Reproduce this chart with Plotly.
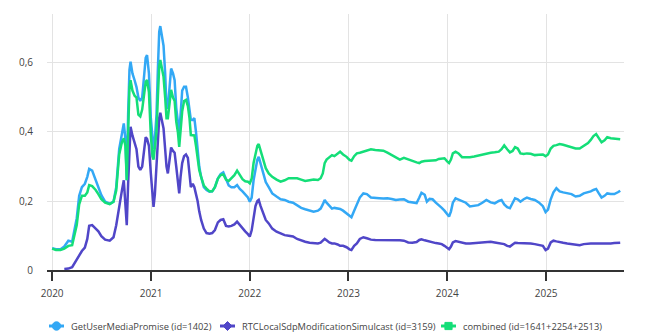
import plotly.graph_objects as go

dates = [
    "2020-01-01", "2020-01-15", "2020-02-01", "2020-02-15", "2020-03-01", "2020-03-15",
    "2020-04-01", "2020-04-10", "2020-04-20", "2020-05-01", "2020-05-10", "2020-05-17",
    "2020-05-28", "2020-06-10", "2020-06-20", "2020-07-01", "2020-07-15", "2020-08-01",
    "2020-08-15", "2020-08-25", "2020-09-05", "2020-09-15", "2020-09-22", "2020-09-28",
    "2020-10-03", "2020-10-08", "2020-10-13", "2020-10-17", "2020-10-24", "2020-11-01",
    "2020-11-08", "2020-11-15", "2020-11-22", "2020-11-29", "2020-12-06", "2020-12-12",
    "2020-12-17", "2020-12-24", "2020-12-31", "2021-01-06", "2021-01-10", "2021-01-15",
    "2021-01-21", "2021-01-26", "2021-01-31", "2021-02-04", "2021-02-10", "2021-02-16",
    "2021-02-22", "2021-02-27", "2021-03-04", "2021-03-10", "2021-03-16", "2021-03-23",
    "2021-03-29", "2021-04-04", "2021-04-10", "2021-04-15", "2021-04-20", "2021-04-26",
    "2021-05-03", "2021-05-10", "2021-05-17", "2021-05-23", "2021-05-28", "2021-06-04",
    "2021-06-10", "2021-06-16", "2021-06-22", "2021-06-28", "2021-07-05", "2021-07-15",
    "2021-07-25", "2021-08-05", "2021-08-15", "2021-08-25", "2021-09-05", "2021-09-15",
    "2021-09-25", "2021-10-05", "2021-10-15", "2021-10-25", "2021-11-05", "2021-11-15",
    "2021-11-25", "2021-12-05", "2021-12-15", "2021-12-25", "2022-01-01", "2022-01-08",
    "2022-01-15", "2022-01-22", "2022-01-29", "2022-02-03", "2022-02-10", "2022-02-18",
    "2022-03-01", "2022-03-12", "2022-03-25", "2022-04-10", "2022-04-25", "2022-05-10",
    "2022-05-25", "2022-06-10", "2022-06-25", "2022-07-10", "2022-07-25", "2022-08-10",
    "2022-08-25", "2022-09-10", "2022-09-20", "2022-09-28", "2022-10-05", "2022-10-12",
    "2022-10-22", "2022-11-01", "2022-11-10", "2022-11-22", "2022-12-01", "2022-12-12",
    "2022-12-25", "2023-01-05", "2023-01-12", "2023-01-22", "2023-02-01", "2023-02-12",
    "2023-02-25", "2023-03-10", "2023-03-25", "2023-04-10", "2023-04-25", "2023-05-10",
    "2023-05-25", "2023-06-10", "2023-06-25", "2023-07-10", "2023-07-25", "2023-08-10",
    "2023-08-25", "2023-09-10", "2023-09-20", "2023-09-28", "2023-10-10", "2023-10-18",
    "2023-10-28", "2023-11-08", "2023-11-20", "2023-12-01", "2023-12-12", "2023-12-22",
    "2024-01-01", "2024-01-08", "2024-01-15", "2024-01-22", "2024-02-01", "2024-02-12",
    "2024-02-25", "2024-03-10", "2024-03-25", "2024-04-10", "2024-04-25", "2024-05-10",
    "2024-05-25", "2024-06-10", "2024-06-25", "2024-07-10", "2024-07-20", "2024-07-30",
    "2024-08-10", "2024-08-20", "2024-08-30", "2024-09-08", "2024-09-18", "2024-09-28",
    "2024-10-10", "2024-10-22", "2024-11-05", "2024-11-20", "2024-12-05", "2024-12-20",
    "2024-12-30", "2025-01-08", "2025-01-18", "2025-01-28", "2025-02-08", "2025-02-20",
    "2025-03-05", "2025-03-20", "2025-04-05", "2025-04-20", "2025-05-05", "2025-05-20",
    "2025-06-05", "2025-06-15", "2025-06-25", "2025-07-05", "2025-07-15", "2025-07-25",
    "2025-08-05", "2025-08-15", "2025-08-28", "2025-09-10", "2025-09-25", "2025-10-02",
]

get_user_media = [
    0.063, 0.060, 0.060, 0.068, 0.085, 0.082,
    0.150, 0.215, 0.240, 0.250, 0.270, 0.293,
    0.288, 0.262, 0.240, 0.217, 0.198, 0.192,
    0.198, 0.240, 0.350, 0.400, 0.425, 0.380,
    0.260, 0.450, 0.580, 0.604, 0.570, 0.550,
    0.530, 0.500, 0.490, 0.500, 0.560, 0.615,
    0.623, 0.570, 0.440, 0.370, 0.350, 0.380,
    0.450, 0.580, 0.690, 0.707, 0.680, 0.650,
    0.570, 0.470, 0.470, 0.530, 0.584, 0.570,
    0.550, 0.470, 0.430, 0.396, 0.450, 0.520,
    0.531, 0.531, 0.500, 0.470, 0.435, 0.435,
    0.440, 0.400, 0.350, 0.300, 0.270, 0.240,
    0.232, 0.227, 0.228, 0.240, 0.265, 0.278,
    0.283, 0.262, 0.245, 0.240, 0.240, 0.246,
    0.235, 0.228, 0.218, 0.210, 0.198, 0.210,
    0.260, 0.290, 0.320, 0.328, 0.310, 0.285,
    0.255, 0.240, 0.222, 0.213, 0.205, 0.203,
    0.198, 0.195, 0.188, 0.180, 0.176, 0.172,
    0.169, 0.172, 0.178, 0.190, 0.203, 0.195,
    0.185, 0.178, 0.180, 0.178, 0.177, 0.172,
    0.164, 0.155, 0.153, 0.172, 0.190, 0.210,
    0.222, 0.220, 0.210, 0.208, 0.208, 0.207,
    0.208, 0.206, 0.203, 0.204, 0.205, 0.198,
    0.195, 0.194, 0.210, 0.224, 0.218, 0.198,
    0.206, 0.205, 0.195, 0.186, 0.180, 0.172,
    0.163, 0.155, 0.170, 0.195, 0.208, 0.204,
    0.200, 0.195, 0.184, 0.186, 0.188, 0.195,
    0.203, 0.196, 0.193, 0.200, 0.203, 0.190,
    0.182, 0.179, 0.195, 0.208, 0.205, 0.198,
    0.205, 0.210, 0.206, 0.203, 0.196, 0.185,
    0.168, 0.175, 0.205, 0.225, 0.237, 0.228,
    0.225, 0.222, 0.220, 0.213, 0.215, 0.222,
    0.225, 0.228, 0.232, 0.235, 0.222, 0.210,
    0.215, 0.222, 0.220, 0.220, 0.226, 0.230,
]

rtc_local_sdp = [
    None, None, None, 0.003, 0.004, 0.008,
    0.030, 0.045, 0.055, 0.065, 0.090, 0.128,
    0.130, 0.120, 0.112, 0.098, 0.088, 0.085,
    0.095, 0.130, 0.190, 0.230, 0.260, 0.200,
    0.130, 0.250, 0.350, 0.415, 0.390, 0.370,
    0.350, 0.300, 0.290, 0.300, 0.350, 0.385,
    0.380, 0.360, 0.280, 0.210, 0.183, 0.220,
    0.310, 0.380, 0.440, 0.456, 0.430, 0.410,
    0.350, 0.300, 0.280, 0.320, 0.355, 0.345,
    0.340, 0.300, 0.250, 0.222, 0.270, 0.310,
    0.330, 0.335, 0.325, 0.270, 0.240, 0.250,
    0.240, 0.220, 0.200, 0.170, 0.145, 0.120,
    0.107, 0.105, 0.107, 0.116, 0.138, 0.145,
    0.147, 0.128, 0.126, 0.128, 0.132, 0.140,
    0.130, 0.120, 0.112, 0.104, 0.097, 0.115,
    0.150, 0.185, 0.200, 0.203, 0.185, 0.170,
    0.145, 0.135, 0.120, 0.111, 0.106, 0.101,
    0.099, 0.097, 0.090, 0.085, 0.082, 0.079,
    0.077, 0.077, 0.079, 0.084, 0.090, 0.086,
    0.080, 0.077, 0.077, 0.074, 0.070, 0.070,
    0.066, 0.060, 0.058, 0.070, 0.077, 0.090,
    0.095, 0.092, 0.088, 0.087, 0.087, 0.088,
    0.087, 0.087, 0.086, 0.086, 0.085, 0.080,
    0.079, 0.081, 0.087, 0.089, 0.086, 0.084,
    0.082, 0.080, 0.078, 0.077, 0.075, 0.070,
    0.064, 0.060, 0.068, 0.080, 0.084, 0.082,
    0.080, 0.077, 0.077, 0.078, 0.079, 0.080,
    0.082, 0.082, 0.080, 0.077, 0.077, 0.075,
    0.070, 0.068, 0.074, 0.079, 0.078, 0.078,
    0.078, 0.077, 0.077, 0.075, 0.073, 0.070,
    0.058, 0.062, 0.080, 0.085, 0.083, 0.080,
    0.079, 0.077, 0.076, 0.073, 0.072, 0.075,
    0.077, 0.077, 0.077, 0.077, 0.076, 0.075,
    0.075, 0.075, 0.077, 0.078, 0.079, 0.079,
]

combined = [
    0.062, 0.058, 0.058, 0.062, 0.070, 0.072,
    0.130, 0.190, 0.215, 0.215, 0.225, 0.246,
    0.243, 0.232, 0.220, 0.205, 0.195, 0.191,
    0.198, 0.230, 0.335, 0.370, 0.382, 0.360,
    0.260, 0.420, 0.530, 0.550, 0.520, 0.505,
    0.500, 0.450, 0.445, 0.465, 0.510, 0.545,
    0.551, 0.515, 0.390, 0.330, 0.320, 0.360,
    0.400, 0.500, 0.590, 0.609, 0.585, 0.560,
    0.500, 0.440, 0.440, 0.480, 0.522, 0.500,
    0.490, 0.430, 0.400, 0.357, 0.400, 0.460,
    0.490, 0.493, 0.475, 0.440, 0.391, 0.390,
    0.390, 0.360, 0.330, 0.290, 0.270, 0.245,
    0.236, 0.228, 0.228, 0.240, 0.265, 0.275,
    0.277, 0.262, 0.258, 0.265, 0.275, 0.288,
    0.275, 0.263, 0.257, 0.256, 0.251, 0.265,
    0.310, 0.340, 0.360, 0.365, 0.345, 0.320,
    0.295, 0.280, 0.270, 0.262, 0.256, 0.260,
    0.266, 0.266, 0.266, 0.262, 0.258, 0.260,
    0.262, 0.261, 0.266, 0.280, 0.310, 0.320,
    0.328, 0.333, 0.330, 0.338, 0.343, 0.335,
    0.328, 0.319, 0.317, 0.330, 0.338, 0.340,
    0.343, 0.345, 0.350, 0.348, 0.346, 0.346,
    0.340, 0.333, 0.325, 0.320, 0.325, 0.320,
    0.316, 0.312, 0.310, 0.314, 0.316, 0.316,
    0.318, 0.316, 0.318, 0.322, 0.323, 0.324,
    0.315, 0.310, 0.320, 0.338, 0.343, 0.338,
    0.327, 0.326, 0.327, 0.329, 0.332, 0.334,
    0.337, 0.340, 0.341, 0.343, 0.350, 0.361,
    0.350, 0.341, 0.345, 0.356, 0.352, 0.338,
    0.336, 0.338, 0.337, 0.333, 0.334, 0.335,
    0.330, 0.335, 0.352, 0.360, 0.362, 0.365,
    0.363, 0.360, 0.357, 0.352, 0.352, 0.360,
    0.368, 0.377, 0.388, 0.394, 0.380, 0.370,
    0.376, 0.385, 0.382, 0.381, 0.380, 0.379,
]

series_names = [
    "GetUserMediaPromise (id=1402)",
    "RTCLocalSdpModificationSimulcast (id=3159)",
    "combined (id=1641+2254+2513)",
]
series_values = [get_user_media, rtc_local_sdp, combined]
colors = ["#33a8f5", "#5046c8", "#14de78"]

y_tick_vals = [0, 0.2, 0.4, 0.6]
x_range = ["2019-12-13", "2025-10-16"]
y_range = [0, 0.742]

# plot area geometry (pixels) used to place the custom legend
W, H = 651, 336
M_L, M_R, M_T, M_B = 47, 27, 14, 66
PW, PH = W - M_L - M_R, H - M_T - M_B


def px_to_paper_x(px):
    return (px - M_L) / PW


def py_to_paper_y(py):
    return (H - M_B - py) / PH


fig = go.Figure()
for name, vals, col in zip(series_names, series_values, colors):
    fig.add_trace(go.Scatter(
        x=dates, y=vals, mode="lines", name=name, showlegend=False,
        line=dict(color=col, width=2.5), connectgaps=False,
    ))

# custom legend (icon line + marker + label), laid out like the reference
legend_icon_left = [49, 220, 441]
legend_y = py_to_paper_y(326)
diamond_path = "M0,4.5 L4.5,0 L0,-4.5 L-4.5,0 Z"
shapes = []
annotations = []
for i, (name, col) in enumerate(zip(series_names, colors)):
    x0 = legend_icon_left[i]
    xc = x0 + 7.5
    shapes.append(dict(
        type="line", xref="paper", yref="paper",
        x0=px_to_paper_x(x0), x1=px_to_paper_x(x0 + 15),
        y0=legend_y, y1=legend_y, line=dict(color=col, width=3),
    ))
    common = dict(xref="paper", yref="paper", xsizemode="pixel", ysizemode="pixel",
                  xanchor=px_to_paper_x(xc), yanchor=legend_y,
                  fillcolor=col, line=dict(color=col, width=1))
    if i == 0:
        shapes.append(dict(type="circle", x0=-4.2, x1=4.2, y0=-4.2, y1=4.2, **common))
    elif i == 1:
        shapes.append(dict(type="path", path=diamond_path, **common))
    else:
        shapes.append(dict(type="rect", x0=-3.6, x1=3.6, y0=-3.6, y1=3.6, **common))
    annotations.append(dict(
        text=name, xref="paper", yref="paper",
        x=px_to_paper_x(x0 + 20), y=legend_y, xanchor="left", yanchor="middle",
        showarrow=False, font=dict(size=9.3, color="#444"),
    ))

fig.update_layout(
    width=W, height=H,
    margin=dict(l=M_L, r=M_R, t=M_T, b=M_B),
    paper_bgcolor="white", plot_bgcolor="white",
    separators=", ",
    font=dict(family="Open Sans, Noto Sans, sans-serif", size=10, color="#444"),
    showlegend=False,
    shapes=shapes,
    annotations=annotations,
    xaxis=dict(
        type="date", range=x_range, dtick="M12", tick0="2020-01-01",
        tickformat="%Y", showgrid=True, gridcolor="#e3e3e3", gridwidth=1,
        showline=True, linecolor="#333", linewidth=1.5,
        ticks="outside", ticklen=9, tickcolor="#333", tickwidth=1.5,
        ticklabelstandoff=4,
        zeroline=False, tickfont=dict(size=10, color="#444"),
    ),
    yaxis=dict(
        range=y_range, tickvals=y_tick_vals, showgrid=True, gridcolor="#e3e3e3",
        gridwidth=1, zeroline=False, showline=False, ticks="",
        ticklabelstandoff=13, tickfont=dict(size=10, color="#444"),
    ),
)

fig.write_html("out.html")
